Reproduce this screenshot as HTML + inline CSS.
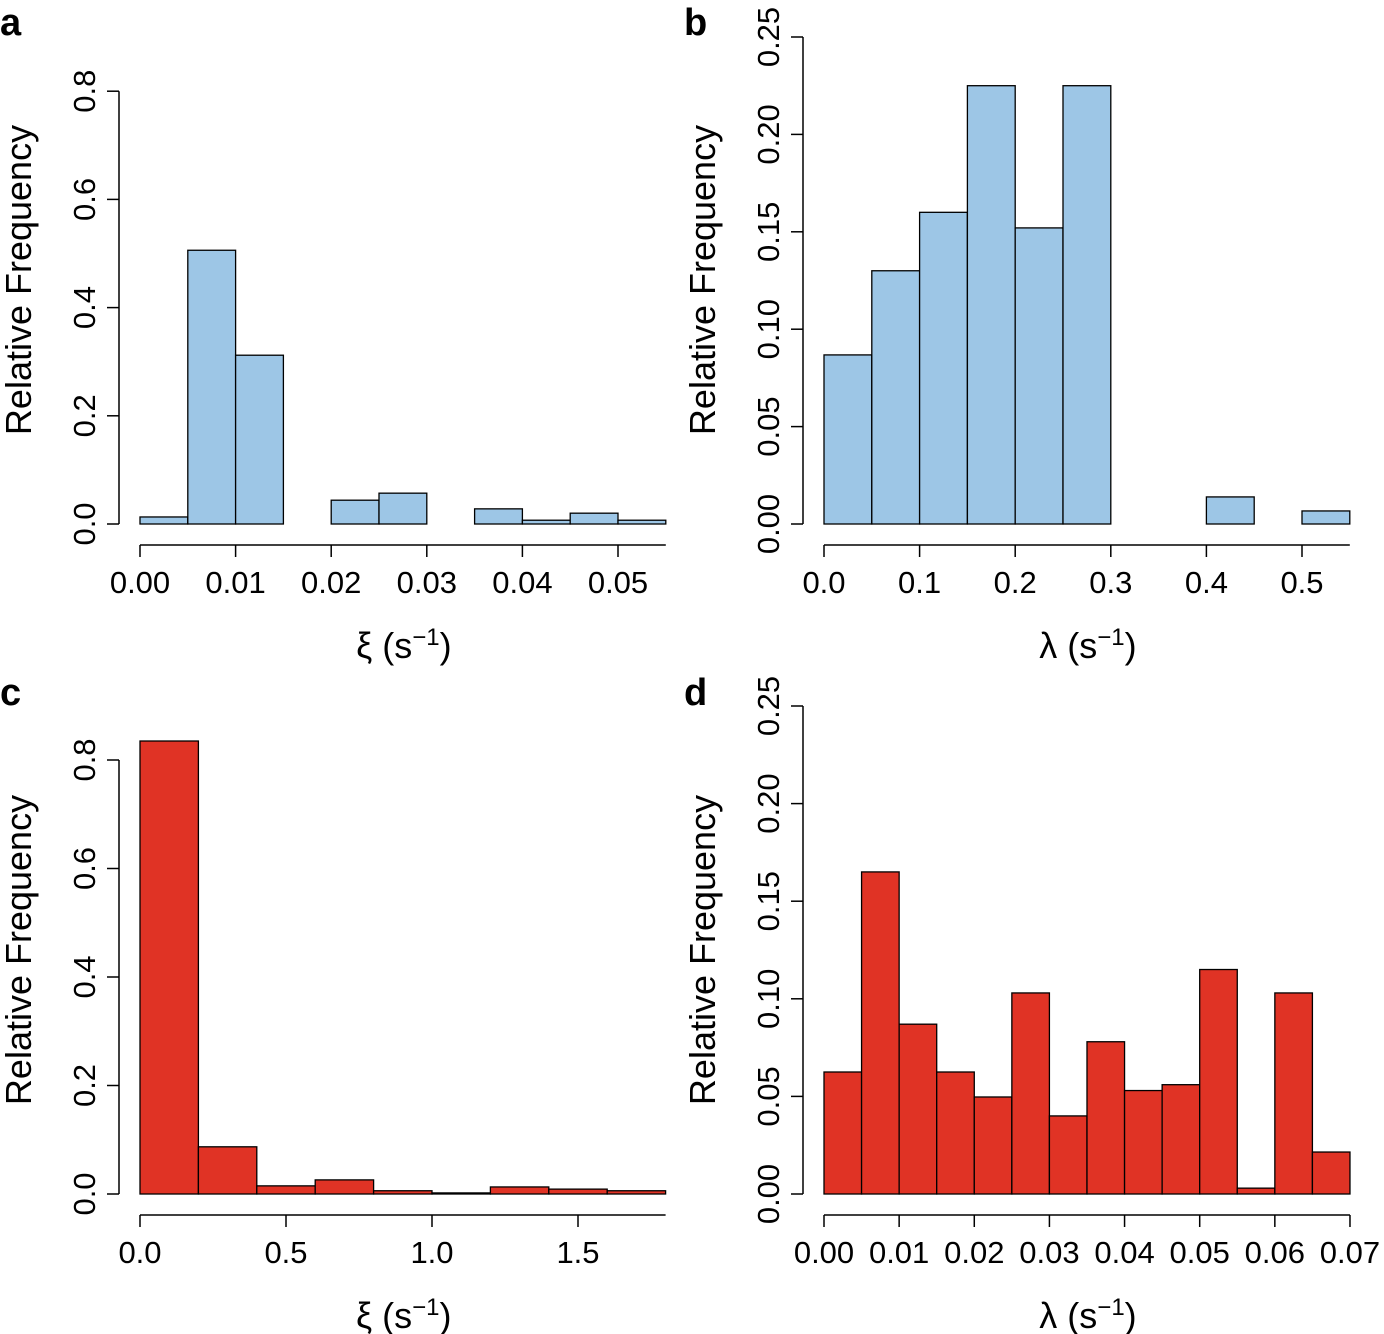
<!DOCTYPE html>
<html><head><meta charset="utf-8"><style>
body{margin:0;background:#fff}
svg{display:block;font-family:"Liberation Sans",Arial,sans-serif}
</style></head><body>
<svg id="s" width="1384" height="1334"></svg>
<script>
const aVals=[0.013,0.506,0.312,0,0.044,0.057,0,0.028,0.007,0.02,0.007];
const aTicksX=["0.00","0.01","0.02","0.03","0.04","0.05"];
const aTicksY=["0.0","0.2","0.4","0.6","0.8"];
const bVals=[0.0868,0.130,0.160,0.225,0.152,0.225,0,0,0.0139,0,0.0067];
const bTicksX=["0.0","0.1","0.2","0.3","0.4","0.5"];
const bTicksY=["0.00","0.05","0.10","0.15","0.20","0.25"];
const cVals=[0.835,0.087,0.015,0.026,0.006,0.002,0.013,0.009,0.006];
const cTicksX=["0.0","0.5","1.0","1.5"];
const cTicksY=["0.0","0.2","0.4","0.6","0.8"];
const dVals=[0.0625,0.165,0.087,0.0625,0.0497,0.103,0.040,0.078,0.053,0.056,0.115,0.003,0.103,0.0215];
const dTicksX=["0.00","0.01","0.02","0.03","0.04","0.05","0.06","0.07"];
const dTicksY=["0.00","0.05","0.10","0.15","0.20","0.25"];
const NS="http://www.w3.org/2000/svg";
const svg=document.getElementById('s');
function el(t,at,p){const e=document.createElementNS(NS,t);for(const k in at)e.setAttribute(k,at[k]);(p||svg).appendChild(e);return e;}
function panel(o){
  const g=el('g',{});
  
  
  const xs=v=>o.x0+(v-o.xmin)*o.xpx, ys=v=>o.y0-v*o.ypx;
  o.vals.forEach((v,i)=>{ if(v<=0)return;
    const r=el('rect',{x:xs(o.xmin+i*o.bw),y:ys(v),width:o.bw*o.xpx,height:v*o.ypx,fill:o.fill,stroke:'#000','stroke-width':1.3},g);
    
    
  });
  const xa=el('g',{},g);
  
  
  const xEnd=xs(o.xmin+o.vals.length*o.bw);
  el('line',{x1:o.x0,x2:xEnd,y1:o.y0+21,y2:o.y0+21,stroke:'#000','stroke-width':1.5},xa);
  o.xt.forEach((t,i)=>{const x=xs(parseFloat(t));
    el('line',{x1:x,x2:x,y1:o.y0+21,y2:o.y0+33,stroke:'#000','stroke-width':1.5},xa);
    const tx=el('text',{x:x,y:o.y0+69,'text-anchor':'middle','font-size':31},xa);tx.textContent=t;});
  const ya=el('g',{},g);
  
  
  const ymaxv=parseFloat(o.yt[o.yt.length-1]);
  el('line',{x1:o.x0-21,x2:o.x0-21,y1:o.y0,y2:ys(ymaxv),stroke:'#000','stroke-width':1.5},ya);
  o.yt.forEach(t=>{const y=ys(parseFloat(t));
    el('line',{x1:o.x0-33,x2:o.x0-21,y1:y,y2:y,stroke:'#000','stroke-width':1.5},ya);
    const tx=el('text',{x:0,y:0,'text-anchor':'middle','font-size':31,transform:`translate(${o.x0-45},${y}) rotate(-90)`},ya);tx.textContent=t;});
  const yl=el('text',{'text-anchor':'middle','font-size':36,transform:`translate(${o.x0-109},${o.y0-244}) rotate(-90)`},g);
  yl.textContent='Relative Frequency';
  
  
  const xl=el('text',{x:(o.x0+xEnd)/2+1,y:o.y0+134,'text-anchor':'middle','font-size':36},g);
  xl.innerHTML=o.sym+' (s<tspan dy="-13" font-size="24">\u22121</tspan><tspan dy="13">)</tspan>';
  
  
  const L=el('text',{x:o.x0-140,y:o.y0-489,'font-size':38,'font-weight':'bold'},g);
  L.textContent=o.letter;
  
  
}
const blue='#9dc6e6',red='#e03325';
panel({letter:'a',vals:aVals,xt:aTicksX,yt:aTicksY,x0:140,y0:524,xmin:0,bw:0.005,xpx:9560,ypx:541,fill:blue,sym:'\u03be'});
panel({letter:'b',vals:bVals,xt:bTicksX,yt:bTicksY,x0:824,y0:524,xmin:0,bw:0.05,xpx:956,ypx:1948,fill:blue,sym:'\u03bb'});
panel({letter:'c',vals:cVals,xt:cTicksX,yt:cTicksY,x0:140,y0:1194,xmin:0,bw:0.2,xpx:292,ypx:542.5,fill:red,sym:'\u03be'});
panel({letter:'d',vals:dVals,xt:dTicksX,yt:dTicksY,x0:824,y0:1194,xmin:0,bw:0.005,xpx:7514,ypx:1952,fill:red,sym:'\u03bb'});
</script>
</body></html>
